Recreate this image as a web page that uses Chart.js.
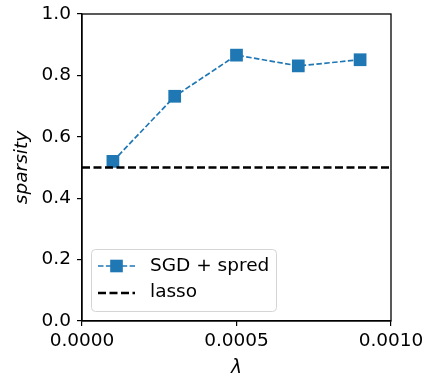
<!DOCTYPE html>
<html>
<head>
<meta charset="utf-8">
<script src="https://cdn.jsdelivr.net/npm/chart.js@4/dist/chart.umd.min.js"></script>
<style>
html,body{margin:0;padding:0;background:#fff;}
#wrap{width:425px;height:375px;position:relative;}
</style>
</head>
<body>
<div id="wrap"><canvas id="c" width="425" height="375"></canvas></div>
<script>
const lambdas = [0.0001, 0.0003, 0.0005, 0.0007, 0.0009];
const sgdSparsity = [0.52, 0.732, 0.866, 0.831, 0.851];
const lassoSparsity = 0.5;
const xTickValues = [0, 0.0005, 0.001];
const yTickValues = [0, 0.2, 0.4, 0.6, 0.8, 1.0];
const seriesNames = ['SGD + spred', 'lasso'];

const FONT = 'DejaVu Sans';
const FS = 18.5;
const BLUE = '#1f77b4';

const frame = {
  id: 'frame',
  afterDraw(chart) {
    const {ctx, chartArea: a} = chart;
    ctx.save();
    ctx.strokeStyle = '#000';
    ctx.lineWidth = 1.3;
    ctx.strokeRect(a.left, a.top, a.right - a.left, a.bottom - a.top);
    // legend
    const bx = 91, by = 249, bw = 185, bh = 62, r = 4;
    ctx.globalAlpha = 0.8;
    ctx.fillStyle = '#fff';
    ctx.beginPath();
    ctx.roundRect(bx, by, bw, bh, r);
    ctx.fill();
    ctx.globalAlpha = 1;
    ctx.strokeStyle = '#d4d4d4';
    ctx.lineWidth = 1;
    ctx.beginPath();
    ctx.roundRect(bx + 0.5, by + 0.5, bw, bh, r);
    ctx.stroke();
    const y1 = 266, y2 = 293, lx0 = 98, lx1 = 135;
    ctx.strokeStyle = BLUE;
    ctx.lineWidth = 1.7;
    ctx.setLineDash([5.5, 2.4]);
    ctx.beginPath(); ctx.moveTo(lx0, y1); ctx.lineTo(lx1, y1); ctx.stroke();
    ctx.setLineDash([]);
    ctx.fillStyle = BLUE;
    ctx.fillRect(116.5 - 6.3, y1 - 6.3, 12.6, 12.6);
    ctx.strokeStyle = '#000';
    ctx.lineWidth = 2.7;
    ctx.setLineDash([8, 3.5]);
    ctx.beginPath(); ctx.moveTo(lx0, y2); ctx.lineTo(lx1, y2); ctx.stroke();
    ctx.setLineDash([]);
    ctx.fillStyle = '#000';
    ctx.font = FS + 'px "' + FONT + '"';
    ctx.textBaseline = 'middle';
    ctx.textAlign = 'left';
    ctx.fillText(seriesNames[0], 150, y1);
    ctx.fillText(seriesNames[1], 150, y2 - 1);
    ctx.restore();
  }
};

new Chart(document.getElementById('c'), {
  type: 'line',
  data: {
    datasets: [
      {
        label: seriesNames[1],
        data: [{x: xTickValues[0], y: lassoSparsity}, {x: xTickValues[xTickValues.length - 1], y: lassoSparsity}],
        borderColor: '#000',
        borderWidth: 2.7,
        borderDash: [8, 3.5],
        pointRadius: 0,
        order: 0
      },
      {
        label: seriesNames[0],
        data: lambdas.map((x, i) => ({x, y: sgdSparsity[i]})),
        borderColor: BLUE,
        borderWidth: 1.7,
        borderDash: [5.5, 2.4],
        pointStyle: 'rect',
        pointRadius: 9,
        pointBackgroundColor: BLUE,
        pointBorderColor: BLUE,
        pointBorderWidth: 0,
        order: 1
      }
    ]
  },
  options: {
    responsive: false,
    animation: false,
    devicePixelRatio: 1,
    layout: {padding: {left: 0, right: 34, top: 14, bottom: 0}},
    plugins: {legend: {display: false}, tooltip: {enabled: false}},
    scales: {
      x: {
        type: 'linear',
        min: 0, max: 0.001,
        afterBuildTicks(s) { s.ticks = xTickValues.map(v => ({value: v})); },
        afterFit(s) { s.height = 375 - 321; s.paddingLeft = 0; s.paddingRight = 0; },
        ticks: {
          color: '#000', font: {family: FONT, size: FS}, padding: 4,
          maxRotation: 0, autoSkip: false,
          callback: v => v.toFixed(4)
        },
        grid: {display: true, drawOnChartArea: false, drawTicks: true, tickLength: 5, color: '#000', lineWidth: 1.2},
        border: {display: true, color: '#000', width: 1.3},
        title: {display: true, text: 'λ', color: '#000', font: {family: FONT, size: FS, style: 'italic'}, padding: {top: 0, bottom: -4}}
      },
      y: {
        min: 0, max: 1,
        afterBuildTicks(s) { s.ticks = yTickValues.map(v => ({value: v})); },
        afterFit(s) { s.width = 82; s.paddingTop = 0; s.paddingBottom = 0; },
        ticks: {
          color: '#000', font: {family: FONT, size: FS}, padding: 6,
          callback: v => v.toFixed(1)
        },
        grid: {display: true, drawOnChartArea: false, drawTicks: true, tickLength: 5, color: '#000', lineWidth: 1.2},
        border: {display: true, color: '#000', width: 1.3},
        title: {display: true, text: 'sparsity', color: '#000', font: {family: FONT, size: FS, style: 'italic'}, padding: {top: 11, bottom: 0}}
      }
    }
  },
  plugins: [frame]
});
</script>
</body>
</html>
